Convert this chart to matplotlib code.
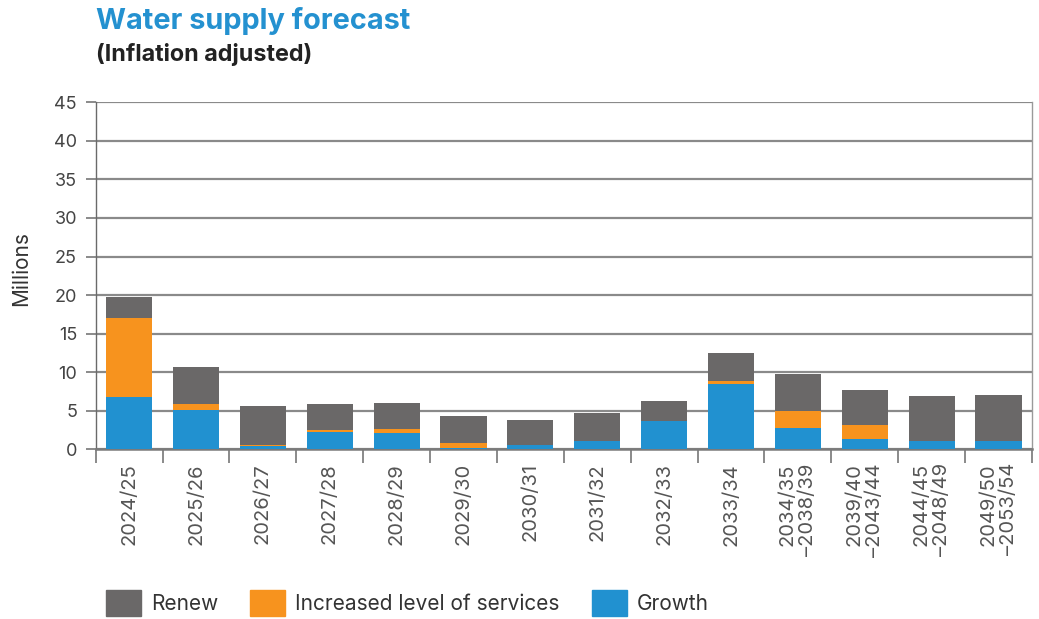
import matplotlib.pyplot as plt
import numpy as np
from matplotlib.patches import Patch

plt.rcParams['font.family'] = ['Inter', 'DejaVu Sans']

# периоды прогноза
periods = ['2024/25', '2025/26', '2026/27', '2027/28', '2028/29', '2029/30',
           '2030/31', '2031/32', '2032/33', '2033/34',
           '2034/35\n\u20132038/39', '2039/40\n\u20132043/44',
           '2044/45\n\u20132048/49', '2049/50\n\u20132053/54']

# значения в миллионах
growth = [6.8, 5.1, 0.4, 2.25, 2.1, 0.17, 0.56, 1.1, 3.67, 8.5, 2.77, 1.34, 1.08, 1.08]
services = [10.25, 0.8, 0.2, 0.3, 0.55, 0.65, -0.2, 0.0, 0.0, 0.35, 2.2, 1.82, 0.0, 0.0]
renew = [2.75, 4.8, 5.0, 3.35, 3.35, 3.5, 3.25, 3.6, 2.6, 3.65, 4.8, 4.55, 5.84, 5.97]

c_renew = '#6a6868'
c_services = '#f7931e'
c_growth = '#2191d0'

x = np.arange(len(periods))
g = np.array(growth)
s = np.array(services)
s_pos = np.clip(s, 0, None)

fig = plt.figure(figsize=(10.39, 6.19), dpi=100)
ax = fig.add_axes([95.7 / 1039, 1 - 449.3 / 619, (1032 - 95.7) / 1039, (449.3 - 102.3) / 619])

w = 0.69
ax.bar(x, g, w, color=c_growth, zorder=3)
# отрицательные значения рисуем вниз от нуля
ax.bar(x, s, w, bottom=np.where(s > 0, g, 0), color=c_services, zorder=3)
ax.bar(x, renew, w, bottom=g + s_pos, color=c_renew, zorder=3)

ax.set_xlim(-0.5, len(periods) - 0.5)
ax.set_ylim(0, 45)
ax.set_yticks(np.arange(0, 46, 5))
ax.grid(axis='y', color='#8a8a8a', linewidth=1.6, zorder=1)
ax.set_axisbelow(True)

ax.spines['top'].set_visible(False)
ax.spines['left'].set_color('#6a6a6a')
ax.spines['left'].set_linewidth(1.0)
ax.spines['right'].set_color('#9a9a9a')
ax.spines['right'].set_linewidth(1.0)
ax.spines['bottom'].set_color('#7a7a7a')
ax.spines['bottom'].set_linewidth(1.8)

ax.tick_params(axis='y', length=7.5, width=1.4, color='#8a8a8a', labelsize=13,
               labelcolor='#444444', pad=6)
ax.set_xticks(x)
ax.set_xticklabels(periods, rotation=90, va='top', ha='center', multialignment='right')
ax.tick_params(axis='x', which='major', length=0, pad=10, labelsize=14.5, labelcolor='#555555')
ax.set_xticks(np.arange(-0.5, len(periods), 1), minor=True)
ax.tick_params(axis='x', which='minor', length=10, width=1.2, color='#777777')

ax.set_ylabel('Millions', fontsize=15, color='#333333')
ax.yaxis.set_label_coords(-0.069, 0.52)

fig.text(96 / 1039, 1 - 29 / 619, 'Water supply forecast', fontsize=20.8, fontweight='bold',
         color='#2491d0')
fig.text(96 / 1039, 1 - 61 / 619, '(Inflation adjusted)', fontsize=16.8, fontweight='bold',
         color='#222222')

handles = [Patch(color=c_renew), Patch(color=c_services), Patch(color=c_growth)]
labels = ['Renew', 'Increased level of services', 'Growth']
fig.legend(handles, labels, loc='center left', bbox_to_anchor=(106 / 1039, 16 / 619),
           ncol=3, frameon=False, fontsize=15, handlelength=1.68, handleheight=1.54,
           handletextpad=0.48, columnspacing=1.55, borderpad=0, borderaxespad=0,
           labelcolor='#333333')

plt.savefig('out.png', dpi=100)
